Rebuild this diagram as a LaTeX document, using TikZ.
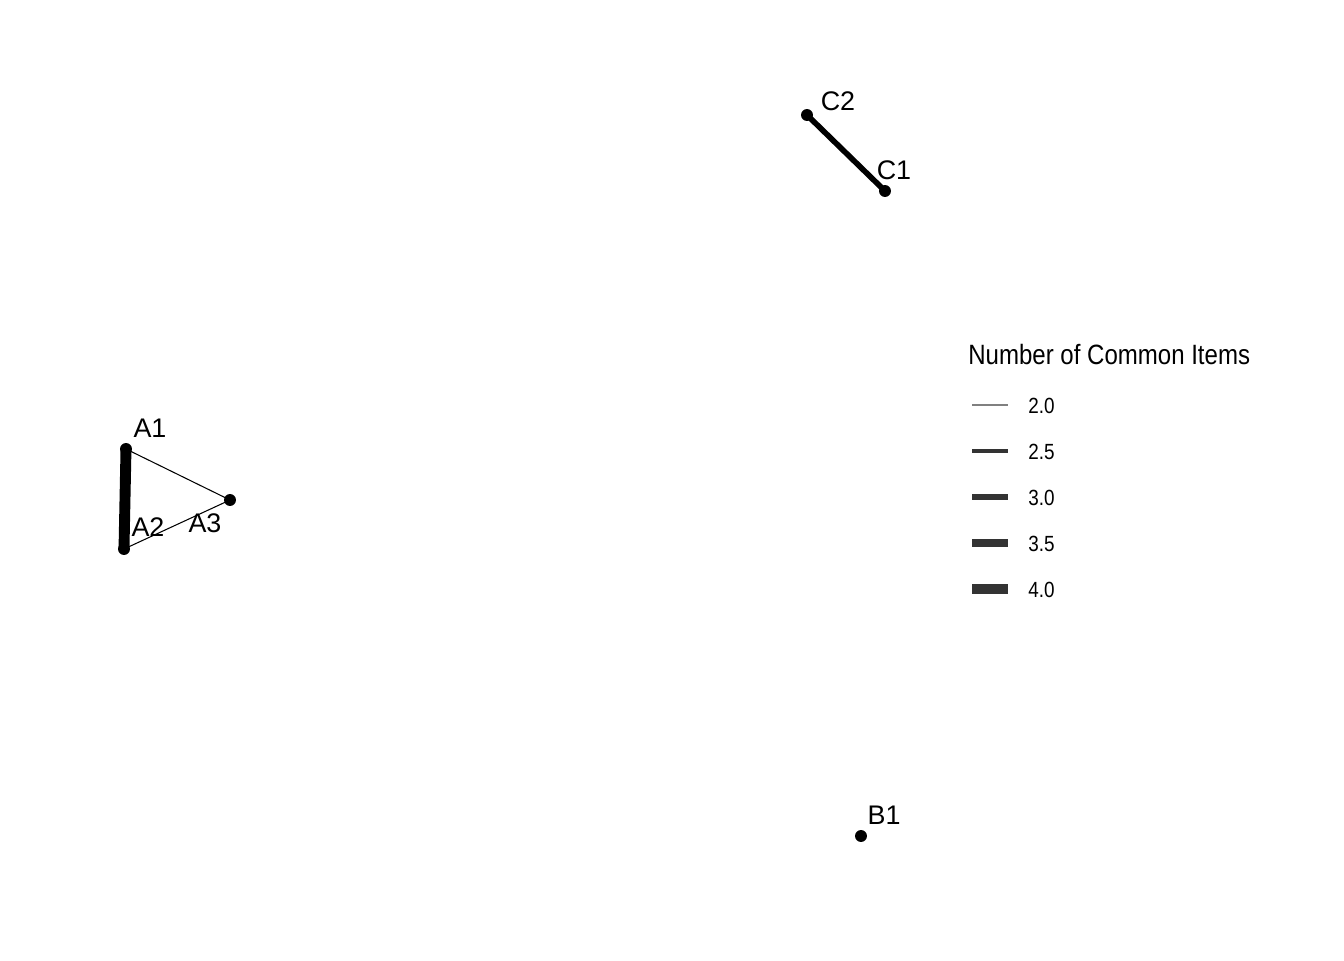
\documentclass[tikz,border=0pt]{standalone}
\usepackage{fontspec}
\setmainfont{Liberation Sans}
\newfontfamily\narrowfont[FakeStretch=0.86]{Liberation Sans}
\tikzset{
  dot/.style={circle, fill=black, inner sep=0pt, minimum size=6.8pt},
  vlabel/.style={inner sep=0pt, font=\fontsize{15.3}{17}\selectfont},
  keyline/.style={draw=black!80, line cap=butt},
  keylabel/.style={inner sep=0pt, anchor=west, font=\narrowfont\fontsize{12.5}{14}\selectfont},
}

\begin{document}
\begin{tikzpicture}[x=0.02cm, y=-0.02cm]
\useasboundingbox (0,0) rectangle (1344,960);
% points
\node[dot] (A1) at (126.000,449.000) {};
\node[dot] (A2) at (124.000,549.000) {};
\node[dot] (A3) at (230.000,500.000) {};
\node[dot] (C2) at (807.000,115.000) {};
\node[dot] (C1) at (885.000,191.000) {};
\node[dot] (B1) at (861.000,836.000) {};
% links
\draw[line width=6.2pt, line cap=round] (A1.center) -- (A2.center);
\draw[line width=0.6pt] (A1.center) -- (A3.center);
\draw[line width=0.6pt] (A2.center) -- (A3.center);
\draw[line width=3.2pt, line cap=round] (C2.center) -- (C1.center);
% names
\node[vlabel] (A1lab) at (150.000,428.000) {A1};
\node[vlabel] (A2lab) at (148.000,527.000) {A2};
\node[vlabel] (A3lab) at (205.000,523.000) {A3};
\node[vlabel] (C2lab) at (838.000,101.000) {C2};
\node[vlabel] (C1lab) at (894.000,170.000) {C1};
\node[vlabel] (B1lab) at (884.000,815.000) {B1};
% key
\node[inner sep=0pt, anchor=west, font=\narrowfont\fontsize{15.9}{18}\selectfont] (keytitle) at (968.000,355.000) {Number of Common Items};
\draw[keyline, draw=black!50, line width=0.6pt] (972.000,405.000) -- (1008.000,405.000);
\draw[keyline, line width=2.2pt] (972.000,451.000) -- (1008.000,451.000);
\draw[keyline, line width=3.4pt] (972.000,497.000) -- (1008.000,497.000);
\draw[keyline, line width=4.6pt] (972.000,543.000) -- (1008.000,543.000);
\draw[keyline, line width=5.7pt] (972.000,589.000) -- (1008.000,589.000);
\node[keylabel] (key20) at (1028.000,406.000) {2.0};
\node[keylabel] (key25) at (1028.000,452.000) {2.5};
\node[keylabel] (key30) at (1028.000,498.000) {3.0};
\node[keylabel] (key35) at (1028.000,544.000) {3.5};
\node[keylabel] (key40) at (1028.000,590.000) {4.0};
\end{tikzpicture}
\end{document}
